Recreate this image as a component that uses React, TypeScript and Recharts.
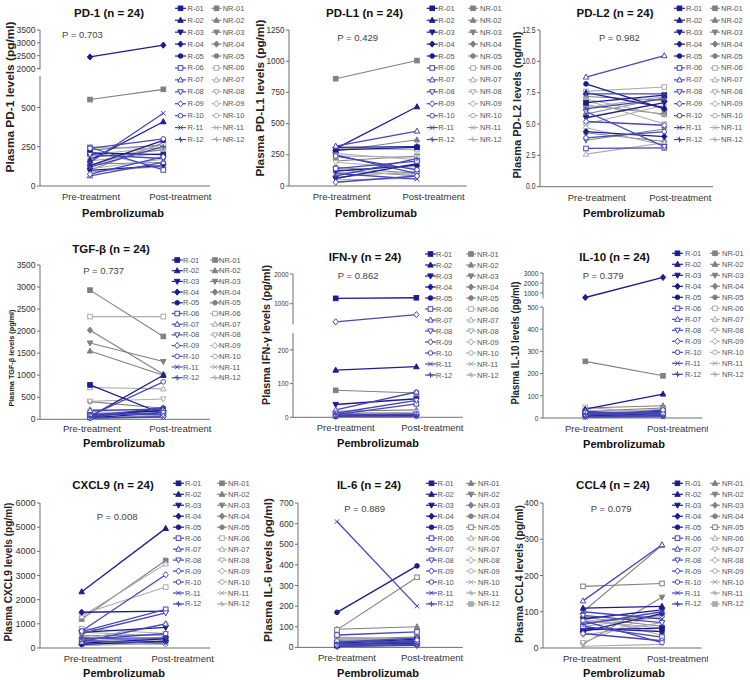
import React from "react";
import { LineChart, Line, XAxis, YAxis } from "recharts";

const FONT = "'Liberation Sans', Arial, Helvetica, sans-serif";
const AXIS = "#6e6e6e";

const CATEGORIES = ["Pre-treatment", "Post-treatment"];
const R_IDS = ["R-01", "R-02", "R-03", "R-04", "R-05", "R-06", "R-07", "R-08", "R-09", "R-10", "R-11", "R-12"];
const NR_IDS = ["NR-01", "NR-02", "NR-03", "NR-04", "NR-05", "NR-06", "NR-07", "NR-08", "NR-09", "NR-10", "NR-11", "NR-12"];

// [pre, post] per patient
const pd1R = [[210, 200], [165, 409], [100, 130], [2450, 2910], [130, 290], [245, 102], [65, 150], [200, 175], [75, 185], [240, 300], [150, 463], [120, 250]];
const pd1NR = [[550, 615], [230, 260], [180, 230], [100, 275], [140, 150], [220, 115], [200, 245], [160, 210], [130, 265], [110, 170], [90, 125], [250, 235]];

const pdl1R = [[290, 310], [300, 635], [60, 180], [310, 315], [120, 165], [140, 200], [320, 440], [250, 100], [30, 80], [240, 130], [100, 55], [80, 220]];
const pdl1NR = [[860, 1005], [280, 370], [200, 240], [150, 100], [130, 80], [240, 230], [300, 290], [190, 140], [70, 120], [110, 95], [50, 60], [260, 210]];

const pdl2R = [[6.7, 7.3], [7.5, 6.3], [5.5, 6.7], [4.4, 4.0], [8.2, 6.2], [3.05, 3.1], [8.75, 10.45], [6.0, 3.2], [5.2, 4.9], [3.9, 4.4], [7.4, 7.4], [6.2, 7.0]];
const pdl2NR = [[6.5, 5.8], [7.2, 6.9], [3.7, 4.6], [5.8, 7.1], [4.3, 3.6], [7.6, 7.95], [2.6, 3.5], [6.9, 5.0], [5.0, 6.5], [4.7, 3.3], [6.3, 7.2], [7.0, 5.7]];

const tgfR = [[780, 120], [60, 1000], [30, 150], [100, 200], [50, 250], [120, 100], [200, 230], [80, 150], [30, 60], [80, 850], [20, 50], [60, 270]];
const tgfNR = [[2930, 1880], [1550, 1000], [1730, 1310], [2020, 1020], [400, 250], [2330, 2330], [720, 690], [410, 460], [220, 150], [180, 100], [100, 200], [50, 80]];

const ifnR = [[1180, 1200], [140, 150], [38, 55], [5, 8], [3, 5], [8, 40], [22, 75], [12, 50], [390, 630], [6, 10], [4, 3], [10, 7]];
const ifnNR = [[80, 72], [18, 22], [5, 8], [3, 6], [10, 4], [12, 15], [2, 5], [6, 3], [8, 10], [4, 12], [15, 9], [1, 2]];

const il10R = [[15, 30], [40, 108], [10, 20], [550, 2560], [8, 12], [20, 25], [30, 15], [5, 10], [12, 35], [25, 18], [3, 5], [18, 8]];
const il10NR = [[255, 190], [45, 55], [30, 45], [10, 25], [20, 35], [48, 20], [8, 15], [25, 30], [15, 40], [35, 28], [5, 10], [12, 18]];

const cxcl9R = [[200, 380], [2330, 4950], [650, 850], [1480, 1530], [150, 280], [680, 1600], [250, 1000], [600, 1450], [700, 3030], [350, 600], [300, 200], [400, 420]];
const cxcl9NR = [[1200, 3620], [500, 550], [300, 400], [150, 300], [450, 250], [1400, 2520], [1300, 3480], [800, 600], [350, 1000], [200, 150], [650, 500], [100, 200]];

const il6R = [[20, 40], [10, 30], [15, 20], [5, 10], [170, 395], [60, 75], [25, 45], [8, 12], [30, 25], [12, 35], [610, 200], [18, 15]];
const il6NR = [[88, 100], [40, 50], [30, 35], [20, 25], [85, 340], [45, 30], [35, 45], [15, 20], [50, 40], [25, 15], [10, 30], [5, 12]];

const ccl4R = [[50, 55], [110, 115], [80, 105], [45, 95], [55, 45], [60, 30], [130, 285], [90, 70], [40, 20], [75, 15], [100, 80], [65, 100]];
const ccl4NR = [[100, 283], [10, 140], [85, 60], [70, 90], [170, 178], [80, 45], [15, 100], [60, 85], [90, 35], [5, 10], [35, 70], [75, 55]];

const PANELS: any[] = [
  {
    title: "PD-1 (n = 24)", tX: 109, tY: 13, p: "P = 0.703", pX: 62, pY: 34,
    yl: "Plasma PD-1 levels (pg/ml)", ylX: 10, ylY: 97, ylLen: 151, ylFs: 11.5,
    x0: 40, x1: 210, preX: 90, postX: 163.3, off: [1, 17], tdy: 10.5, xlX: 123, xlY: 213,
    yt: { fs: 9, sx: 0.95 },
    segs: [
      { lo: 1950, hi: 3500, top: 30, bottom: 69.8, ticks: [2000, 2500, 3000, 3500] },
      { lo: 0, hi: 700, top: 76.3, bottom: 186.3, ticks: [0, 250, 500] },
    ],
    R: pd1R, NR: pd1NR, shift: 0,
    leg: { y0: 8.3, dy: 11.93, rx: 175, rt: 187.5, nx: 211.5, nt: 222.7 },
  },
  {
    title: "PD-L1 (n = 24)", tX: 364.5, tY: 13, p: "P = 0.429", pX: 337.3, pY: 37.3,
    yl: "Plasma PD-L1 levels (pg/ml)", ylX: 260, ylY: 98, ylLen: 157, ylFs: 11.5,
    x0: 289.3, x1: 467, preX: 336, postX: 417.3, off: [6, 16.5], tdy: 10.5, xlX: 376, xlY: 213,
    yt: { fs: 8.5, sx: 0.95 },
    segs: [{ lo: 0, hi: 1250, top: 30, bottom: 186, ticks: [0, 250, 500, 750, 1000, 1250] }],
    R: pdl1R, NR: pdl1NR, shift: 0,
    leg: { y0: 8.3, dy: 11.93, rx: 426.7, rt: 438.3, nx: 468, nt: 480 },
  },
  {
    title: "PD-L2 (n = 24)", tX: 615, tY: 13, p: "P = 0.982", pX: 599, pY: 37.7,
    yl: "Plasma PD-L2 levels (ng/ml)", ylX: 517, ylY: 105, ylLen: 147, ylFs: 11,
    x0: 540, x1: 713, preX: 586, postX: 664.3, off: [10.7, 16], tdy: 10.5, xlX: 624, xlY: 213,
    yt: { fs: 8.5, sx: 0.8 },
    segs: [{ lo: 0, hi: 12.5, top: 30, bottom: 186.7, ticks: [0, 2.5, 5, 7.5, 10, 12.5], fmt: (v: number) => v.toFixed(1) }],
    R: pdl2R, NR: pdl2NR, shift: 0,
    leg: { y0: 8.3, dy: 11.93, rx: 674, rt: 686, nx: 710, nt: 721 },
  },
  {
    title: "TGF-β (n = 24)", tX: 111, tY: 249, p: "P = 0.737", pX: 83.3, pY: 270,
    yl: "Plasma TGF-β levels (pg/ml)", ylX: 11.5, ylY: 358, ylLen: 97, ylFs: 8,
    x0: 40, x1: 210, preX: 90, postX: 163.3, off: [2, 17], tdy: 9, xlX: 124, xlY: 443,
    yt: { fs: 8.5, sx: 1 },
    segs: [{ lo: 0, hi: 3500, top: 265, bottom: 419.3, ticks: [0, 500, 1000, 1500, 2000, 2500, 3000, 3500] }],
    R: tgfR, NR: tgfNR, shift: 0,
    leg: { y0: 260, dy: 10.7, rx: 171.7, rt: 183, nx: 210, nt: 219 },
  },
  {
    title: "IFN-γ (n = 24)", tX: 365, tY: 257, p: "P = 0.862", pX: 337.7, pY: 275,
    yl: "Plasma IFN-γ levels (pg/ml)", ylX: 266, ylY: 335, ylLen: 140, ylFs: 11,
    x0: 293.3, x1: 463, preX: 336, postX: 416.7, off: [10, 16], tdy: 10.3, xlX: 378, xlY: 443,
    yt: { fs: 8, sx: 0.8 },
    segs: [
      { lo: 300, hi: 2000, top: 274.3, bottom: 324.8, ticks: [1000, 2000] },
      { lo: 0, hi: 250, top: 333.4, bottom: 417.7, ticks: [0, 100, 200] },
    ],
    R: ifnR, NR: ifnNR, shift: 0,
    leg: { y0: 254, dy: 11, rx: 425, rt: 436, nx: 466, nt: 477 },
  },
  {
    title: "IL-10 (n = 24)", tX: 614.5, tY: 257, p: "P = 0.379", pX: 582.7, pY: 275.7,
    yl: "Plasma IL-10 levels (pg/ml)", ylX: 515, ylY: 343, ylLen: 123, ylFs: 10,
    x0: 542.7, x1: 702, preX: 585, postX: 662.7, off: [8.7, 15], tdy: 10.3, xlX: 624, xlY: 444,
    yt: { fs: 8, sx: 0.83 },
    segs: [
      { lo: 450, hi: 3000, top: 273.3, bottom: 298.8, ticks: [1000, 2000, 3000] },
      { lo: 0, hi: 500, top: 306.7, bottom: 417.7, ticks: [0, 100, 200, 300, 400, 500] },
    ],
    R: il10R, NR: il10NR, shift: 0,
    leg: { y0: 253.3, dy: 11, rx: 672, rt: 685, nx: 710, nt: 722 },
  },
  {
    title: "CXCL9 (n = 24)", tX: 113, tY: 485, p: "P = 0.008", pX: 96.7, pY: 516.7,
    yl: "Plasma CXCL9 levels (pg/ml)", ylX: 8, ylY: 572, ylLen: 139, ylFs: 10.5,
    x0: 40, x1: 210, preX: 81.7, postX: 165.7, off: [11, 17], tdy: 10.3, xlX: 124, xlY: 673,
    yt: { fs: 9, sx: 1 },
    segs: [{ lo: 0, hi: 6000, top: 502.7, bottom: 647.7, ticks: [0, 1000, 2000, 3000, 4000, 5000, 6000] }],
    R: cxcl9R, NR: cxcl9NR, shift: 0,
    leg: { y0: 483.3, dy: 10.97, rx: 173, rt: 185, nx: 217, nt: 228 },
  },
  {
    title: "IL-6 (n = 24)", tX: 369, tY: 485, p: "P = 0.889", pX: 344.3, pY: 508.3,
    yl: "Plasma IL-6 levels (pg/ml)", ylX: 267.5, ylY: 570, ylLen: 144, ylFs: 11,
    x0: 298.3, x1: 463, preX: 337.3, postX: 417.3, off: [10, 15], tdy: 10.3, xlX: 378, xlY: 673,
    yt: { fs: 9, sx: 0.95 },
    segs: [{ lo: 0, hi: 700, top: 503.3, bottom: 647.7, ticks: [0, 100, 200, 300, 400, 500, 600, 700] }],
    R: il6R, NR: il6NR, shift: 1,
    leg: { y0: 483.3, dy: 10.97, rx: 426, rt: 437.5, nx: 466, nt: 478 },
  },
  {
    title: "CCL4 (n = 24)", tX: 613, tY: 485, p: "P = 0.079", pX: 590.7, pY: 508.3,
    yl: "Plasma CCL4 levels (pg/ml)", ylX: 519, ylY: 574, ylLen: 138, ylFs: 10.5,
    x0: 543.3, x1: 702, preX: 583.3, postX: 662.3, off: [9, 16], tdy: 10.3, xlX: 624, xlY: 673,
    yt: { fs: 9, sx: 0.95 },
    segs: [{ lo: 0, hi: 400, top: 502.7, bottom: 647.7, ticks: [0, 100, 200, 300, 400] }],
    R: ccl4R, NR: ccl4NR, shift: 1,
    leg: { y0: 483.3, dy: 10.97, rx: 672, rt: 685, nx: 710, nt: 722 },
  },
];

const SHAPES = ["square", "tri", "triDown", "diamond", "circle", "square", "tri", "triDown", "diamond", "circle", "x", "star"];
const rColor = (k: number) => (k < 5 ? "#1c1c92" : "#4646bb");
const nrColor = (k: number) => (k < 5 ? "#808080" : "#ababab");

function Marker({ cx, cy, idx, color }: { cx: number; cy: number; idx: number; color: string }) {
  const i = ((idx % 12) + 12) % 12;
  const shape = SHAPES[i];
  const filled = i < 5;
  const s = 2.3;
  const fill = filled ? color : "#ffffff";
  const common = { fill, stroke: color, strokeWidth: 1 };
  switch (shape) {
    case "square":
      return <rect x={cx - s} y={cy - s} width={2 * s} height={2 * s} {...common} />;
    case "tri":
      return <polygon points={`${cx},${cy - s * 1.3} ${cx - s * 1.2},${cy + s * 0.9} ${cx + s * 1.2},${cy + s * 0.9}`} {...common} />;
    case "triDown":
      return <polygon points={`${cx},${cy + s * 1.3} ${cx - s * 1.2},${cy - s * 0.9} ${cx + s * 1.2},${cy - s * 0.9}`} {...common} />;
    case "diamond":
      return <polygon points={`${cx},${cy - s * 1.35} ${cx + s * 1.15},${cy} ${cx},${cy + s * 1.35} ${cx - s * 1.15},${cy}`} {...common} />;
    case "circle":
      return <circle cx={cx} cy={cy} r={s} {...common} />;
    case "x":
      return (
        <g stroke={color} strokeWidth={1}>
          <line x1={cx - s} y1={cy - s} x2={cx + s} y2={cy + s} />
          <line x1={cx - s} y1={cy + s} x2={cx + s} y2={cy - s} />
        </g>
      );
    default:
      return (
        <g stroke={color} strokeWidth={1}>
          <line x1={cx - s * 1.2} y1={cy} x2={cx + s * 1.2} y2={cy} />
          <line x1={cx} y1={cy - s * 1.2} x2={cx} y2={cy + s * 1.2} />
          <line x1={cx - s * 0.8} y1={cy - s * 0.8} x2={cx + s * 0.8} y2={cy + s * 0.8} />
        </g>
      );
  }
}

const makeDot = (idx: number, color: string, tag: string) => (props: any) => {
  const { cx, cy, value, index } = props;
  if (cx == null || cy == null || value == null || Number.isNaN(cy)) return <g key={`${tag}-${index}`} />;
  return (
    <g key={`${tag}-${index}`}>
      <Marker cx={cx} cy={cy} idx={idx} color={color} />
    </g>
  );
};

const makeTick = (offs: number[], dy: number) => (props: any) => {
  const { x, y, payload, index } = props;
  return (
    <text x={x + (offs[index] || 0)} y={y + dy} textAnchor="middle" dominantBaseline="central" fontSize={9.5} fill="#333" fontFamily={FONT}>
      {payload.value}
    </text>
  );
};

const makeYTick = (fs: number, sx: number, fmt?: (v: number) => string) => (props: any) => {
  const { x, y, payload } = props;
  const label = fmt ? fmt(payload.value) : String(payload.value);
  return (
    <text transform={`translate(${x},${y}) scale(${sx},1)`} textAnchor="end" dominantBaseline="central" fontSize={fs} fill="#333" fontFamily={FONT}>
      {label}
    </text>
  );
};

function SegChart({ P, seg, showX, si }: any) {
  const L = 40;
  const T = 6;
  const RM = 6;
  const B = showX ? 26 : 4;
  const width = P.x1 - P.x0 + L + RM;
  const height = seg.bottom - seg.top + T + B;
  const inSeg = (v: number) => (v >= seg.lo && v <= seg.hi ? v : null);
  const data = CATEGORIES.map((c, i) => {
    const row: any = { t: c };
    P.R.forEach((pair: number[], k: number) => (row["r" + k] = inSeg(pair[i])));
    P.NR.forEach((pair: number[], k: number) => (row["n" + k] = inSeg(pair[i])));
    return row;
  });
  return (
    <div style={{ position: "absolute", left: P.x0 - L, top: seg.top - T }}>
      <LineChart width={width} height={height} data={data} margin={{ top: T, right: RM, left: 0, bottom: showX ? 0 : B }}>
        <XAxis
          dataKey="t"
          hide={!showX}
          height={B}
          interval={0}
          padding={{ left: P.preX - P.x0, right: P.x1 - P.postX }}
          tickLine={false}
          tickSize={0}
          tickMargin={0}
          axisLine={{ stroke: AXIS, strokeWidth: 1 }}
          tick={makeTick(P.off, P.tdy)}
        />
        <YAxis
          type="number"
          width={L}
          domain={[seg.lo, seg.hi]}
          ticks={seg.ticks}
          interval={0}
          tickSize={3}
          tickMargin={1.5}
          axisLine={{ stroke: AXIS, strokeWidth: 1 }}
          tickLine={{ stroke: AXIS }}
          tick={makeYTick(P.yt.fs, P.yt.sx, seg.fmt)}
        />
        {NR_IDS.map((id, k) => (
          <Line
            key={id}
            dataKey={"n" + k}
            name={id}
            stroke={nrColor(k)}
            strokeWidth={1.1}
            dot={makeDot(k + P.shift, nrColor(k), `${si}n${k}`)}
            activeDot={false}
            isAnimationActive={false}
          />
        ))}
        {R_IDS.map((id, k) => (
          <Line
            key={id}
            dataKey={"r" + k}
            name={id}
            stroke={rColor(k)}
            strokeWidth={1.3}
            dot={makeDot(k, rColor(k), `${si}r${k}`)}
            activeDot={false}
            isAnimationActive={false}
          />
        ))}
      </LineChart>
    </div>
  );
}

function Overlay() {
  return (
    <svg width={750} height={680} style={{ position: "absolute", left: 0, top: 0, pointerEvents: "none" }} fontFamily={FONT}>
      {PANELS.map((P, pi) => (
        <g key={pi}>
          <text x={P.tX} y={P.tY} textAnchor="middle" dominantBaseline="central" fontSize={11.5} fontWeight="bold" fill="#111">
            {P.title}
          </text>
          <text x={P.pX} y={P.pY} dominantBaseline="central" fontSize={9.5} fill="#444">
            {P.p}
          </text>
          <text
            x={P.ylX}
            y={P.ylY}
            transform={`rotate(-90 ${P.ylX} ${P.ylY})`}
            textAnchor="middle"
            dominantBaseline="central"
            fontSize={P.ylFs}
            fontWeight="bold"
            fill="#222"
            textLength={P.ylLen}
            lengthAdjust="spacingAndGlyphs"
          >
            {P.yl}
          </text>
          <text x={P.xlX} y={P.xlY} textAnchor="middle" dominantBaseline="central" fontSize={11} fontWeight="bold" fill="#111">
            Pembrolizumab
          </text>
          {R_IDS.map((id, k) => {
            const y = P.leg.y0 + k * P.leg.dy;
            const c = rColor(k);
            return (
              <g key={id}>
                <line x1={P.leg.rx} x2={P.leg.rx + 11} y1={y} y2={y} stroke={c} strokeWidth={1.2} />
                <Marker cx={P.leg.rx + 5.5} cy={y} idx={k} color={c} />
                <text x={P.leg.rt} y={y} dominantBaseline="central" fontSize={7.5} fill="#555">
                  {id}
                </text>
              </g>
            );
          })}
          {NR_IDS.map((id, k) => {
            const y = P.leg.y0 + k * P.leg.dy;
            const c = nrColor(k);
            return (
              <g key={id}>
                <line x1={P.leg.nx} x2={P.leg.nx + 10} y1={y} y2={y} stroke={c} strokeWidth={1.1} />
                <Marker cx={P.leg.nx + 5} cy={y} idx={k + P.shift} color={c} />
                <text x={P.leg.nt} y={y} dominantBaseline="central" fontSize={7.5} fill="#555">
                  {id}
                </text>
              </g>
            );
          })}
        </g>
      ))}
    </svg>
  );
}

export default function App() {
  return (
    <div style={{ position: "absolute", left: 0, top: 0, width: 750, height: 680, background: "#ffffff", overflow: "hidden", fontFamily: FONT }}>
      {PANELS.map((P, pi) =>
        P.segs.map((seg: any, si: number) => (
          <SegChart key={`${pi}-${si}`} P={P} seg={seg} si={`${pi}-${si}`} showX={si === P.segs.length - 1} />
        ))
      )}
      <Overlay />
    </div>
  );
}
